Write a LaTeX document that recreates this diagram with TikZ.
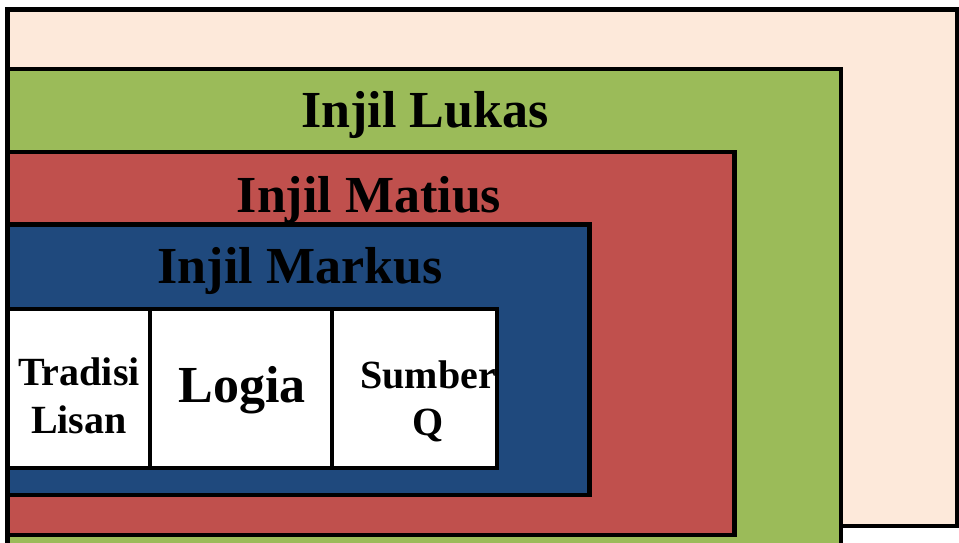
\documentclass[tikz,border=0pt]{standalone}
\usepackage{fontspec}
\setmainfont{Liberation Serif}
\definecolor{peach}{RGB}{253,233,218}
\definecolor{lukasgreen}{RGB}{155,187,89}
\definecolor{matiusred}{RGB}{192,80,77}
\definecolor{markusblue}{RGB}{31,73,125}
\tikzset{
  frame/.style={draw=black, line width=4.5pt, line join=miter},
  biglabel/.style={anchor=base, inner sep=0pt, font=\bfseries\fontsize{52}{60}\selectfont},
  smalllabel/.style={anchor=base, inner sep=0pt, font=\bfseries\fontsize{40}{48}\selectfont},
}
\begin{document}
\begin{tikzpicture}[x=1pt,y=-1pt]
\useasboundingbox (0,0) rectangle (959,542);
\clip (0,0) rectangle (959,542);
\fill[white] (0,0) rectangle (959,542);
% nested frames
\draw[frame, fill=peach] (7.5,9.5) rectangle (957,526);
\draw[frame, fill=lukasgreen] (7.5,69) rectangle (841,570);
\draw[frame, fill=matiusred] (7.5,152) rectangle (734.5,535);
\draw[frame, fill=markusblue] (7.5,224.5) rectangle (589.5,495);
% white boxes
\draw[frame, fill=white] (7.5,309) rectangle (150,468);
\draw[frame, fill=white] (150,309) rectangle (332,468);
\draw[frame, fill=white] (332,309) rectangle (497,468);
% labels
\node[biglabel] (lukas) at (425,127) {Injil Lukas};
\node[biglabel] (matius) at (369,212) {Injil Matius};
\node[biglabel] (markus) at (300,283) {Injil Markus};
\node[biglabel] (logia) at (242,402) {Logia};
\node[smalllabel] (tradisi) at (79,385) {Tradisi};
\node[smalllabel] (lisan) at (79,433) {Lisan};
\node[smalllabel] (sumber) at (428,388) {Sumber};
\node[smalllabel] (q) at (428,435) {Q};
% redraw right border of the Sumber box over the text
\draw[black, line width=4.5pt] (497,309) -- (497,468);
\end{tikzpicture}
\end{document}
